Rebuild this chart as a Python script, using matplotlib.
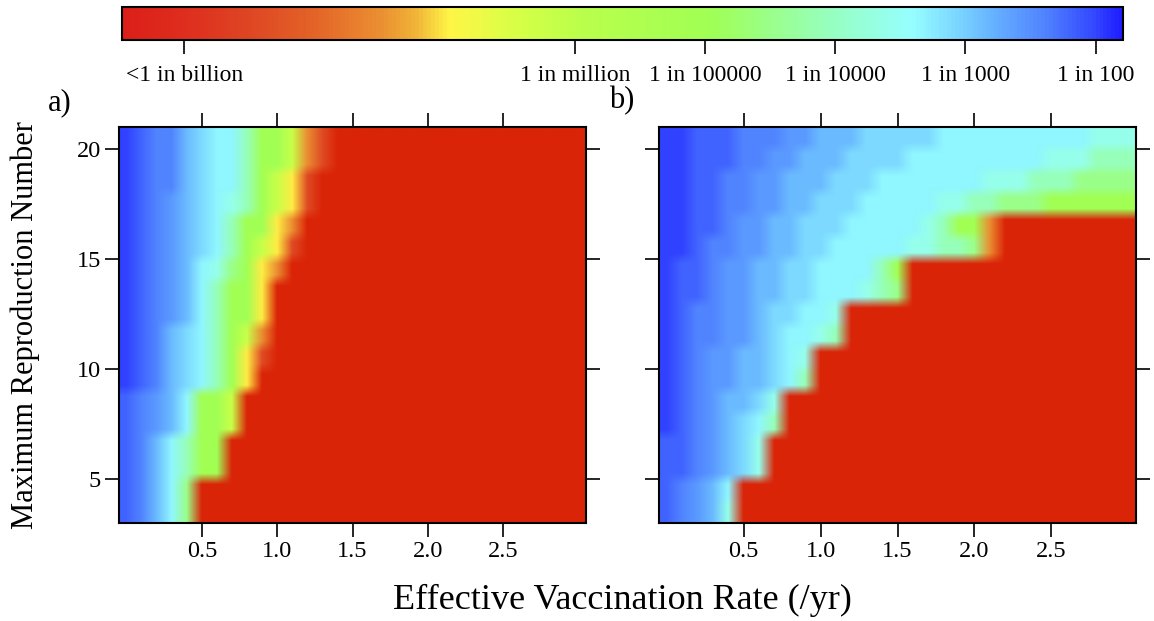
import numpy as np
import matplotlib
matplotlib.use("Agg")
import matplotlib.pyplot as plt
from matplotlib.colors import LinearSegmentedColormap, Normalize
from matplotlib.cm import ScalarMappable

plt.rcParams["font.family"] = ["Liberation Serif", "DejaVu Serif"]

# grid of the two levelplots: vaccination rate columns, R0 rows (top row first)
vacc_rate = [0.0, 0.1, 0.2, 0.3, 0.4, 0.5, 0.6, 0.7, 0.8, 0.9, 1.0,
             1.1, 1.2, 1.3, 1.4, 1.5, 1.6, 1.7, 1.8, 1.9, 2.0,
             2.1, 2.2, 2.3, 2.4, 2.5, 2.6, 2.7, 2.8, 2.9, 3.0]
r0_rows = [20.5, 19.5, 18.5, 17.5, 16.5, 15.5, 14.5, 13.5, 12.5,
           11.5, 10.5, 9.5, 8.5, 7.5, 6.5, 5.5, 4.5, 3.5]

# log10 probability for each code letter
level = {"0": -10.0, "1": -8.4, "2": -7.5, "3": -7.0, "4": -6.2, "5": -5.0,
         "6": -4.5, "7": -4.1, "8": -3.6, "9": -3.35, "A": -3.1, "B": -2.85,
         "C": -2.6, "D": -2.4, "E": -2.2, "F": -2.0}

panel_a = [
    "FEDDBA9975542100000000000000000",
    "FEDDBA9975542100000000000000000",
    "FEDDBA997543100000000000000000" + "0",
    "FEDCBA987543100000000000000000" + "0",
    "FEDCBA9755320000000000000000000",
    "FEDCBA9754310000000000000000000",
    "FEDCB9865320000000000000000000" + "0",
    "FEDCB975530000000000000000000" + "00",
    "FEDCB975530000000000000000000" + "00",
    "FEDBA975420000000000000000000" + "00",
    "FEDBA975310000000000000000000" + "00",
    "FEDBA97530000000000000000000" + "000",
    "EDCB955400000000000000000000" + "000",
    "EDCB955400000000000000000000" + "000",
    "EDB975500000000000000000000" + "0000",
    "EDB975500000000000000000000" + "0000",
    "EDB9600000000000000000000" + "000000",
    "EDB9600000000000000000000" + "000000",
]

panel_b = [
    "FFEEEDDDCCBBBAAAAA9999999999888",
    "FFEEEDDCCBBBAAAA999999999888777",
    "FFEEDDCCBBBAAA99999998887776666",
    "FFEEDDCCBBAAA999998877666555555",
    "FFEEDCCBBAAA9999987552" + "000000000",
    "FFEDDCCBBAA99999887762" + "000000000",
    "FEEDCCBBAA999975" + "000000000000000",
    "FEEDCCBBAA999876" + "000000000000000",
    "FEDDCCBAA998" + "0000000000000000000",
    "FEDDCCBA9987" + "0000000000000000000",
    "FEDCCBBA98" + "000000000000000000000",
    "FEDCCBBA97" + "000000000000000000000",
    "FEDCBBA8" + "00000000000000000000000",
    "FEDCBA97" + "00000000000000000000000",
    "EEDCBA8" + "000000000000000000000000",
    "EEDCBA8" + "000000000000000000000000",
    "EDCB9" + "00000000000000000000000000",
    "EDCB8" + "00000000000000000000000000",
]

cbar_ticks = [-9, -6, -5, -4, -3, -2]
cbar_labels = ["<1 in billion", "1 in million", "1 in 100000",
               "1 in 10000", "1 in 1000", "1 in 100"]
x_ticks = [0.5, 1.0, 1.5, 2.0, 2.5]
y_ticks = [5, 10, 15, 20]

vmin, vmax = -9.48, -1.79
nodes = [(0.0, (220, 30, 25)), (0.06, (222, 45, 30)), (0.126, (222, 70, 35)),
         (0.193, (228, 100, 40)), (0.26, (235, 145, 50)), (0.293, (240, 180, 55)),
         (0.326, (255, 245, 70)), (0.393, (215, 255, 70)), (0.46, (185, 255, 75)),
         (0.59, (160, 255, 85)), (0.64, (155, 255, 130)), (0.707, (150, 255, 190)),
         (0.79, (150, 255, 255)), (0.84, (120, 210, 255)), (0.874, (100, 175, 255)),
         (0.924, (80, 130, 255)), (0.974, (50, 70, 255)), (1.0, (30, 30, 255))]
cmap = LinearSegmentedColormap.from_list(
    "risk", [(f, tuple(c / 255 for c in rgb)) for f, rgb in nodes])
cmap.set_under("#da2408")
norm = Normalize(vmin, vmax)

W, H = 1154, 621
fig = plt.figure(figsize=(W / 100, H / 100), dpi=100)


def px_axes(x0, y0, x1, y1):
    return fig.add_axes([x0 / W, 1 - y1 / H, (x1 - x0) / W, (y1 - y0) / H])


ax_a = px_axes(119, 126.7, 586, 523.3)
ax_b = px_axes(659, 126.7, 1136, 523.3)
cax = px_axes(122, 7, 1123, 40)

dx = (vacc_rate[1] - vacc_rate[0]) / 2
extent = [vacc_rate[0] - dx, vacc_rate[-1] + dx, r0_rows[-1] - 0.5, r0_rows[0] + 0.5]

for ax, rows, show_y in [(ax_a, panel_a, True), (ax_b, panel_b, False)]:
    for r in rows:
        assert len(r) == len(vacc_rate), r
    grid = np.array([[level[c] for c in r] for r in rows])
    # rows doubled so the smoothing stays within half a row, like the original
    grid = np.repeat(grid, 2, axis=0)
    ax.imshow(grid, cmap=cmap, norm=norm, extent=extent, origin="upper",
              aspect="auto", interpolation="bilinear", interpolation_stage="rgba")
    ax.set_xlim(extent[0], extent[1])
    ax.set_ylim(extent[2], extent[3])
    ax.set_xticks(x_ticks)
    ax.set_xticklabels(["%.1f" % t for t in x_ticks])
    ax.set_yticks(y_ticks)
    ax.tick_params(direction="out", length=10, width=1.2, labelsize=17.5,
                   top=True, right=True, pad=3, colors="black")
    ax.tick_params(axis="y", labelleft=show_y, pad=3)
    for s in ax.spines.values():
        s.set_linewidth(1.5)

cb = fig.colorbar(ScalarMappable(norm=norm, cmap=cmap), cax=cax,
                  orientation="horizontal")
cb.set_ticks(cbar_ticks)
cb.set_ticklabels(cbar_labels)
cb.outline.set_linewidth(1.5)
cax.tick_params(direction="out", length=10, width=1.2, labelsize=17, pad=8)

fig.text(60 / W, 1 - 103 / H, "a)", fontsize=22, ha="center", va="center")
fig.text(622 / W, 1 - 101 / H, "b)", fontsize=22, ha="center", va="center")
fig.text(622 / W, 1 - 600 / H, "Effective Vaccination Rate (/yr)",
         fontsize=26, ha="center", va="center")
fig.text(25 / W, 1 - 325 / H, "Maximum Reproduction Number",
         fontsize=22, ha="center", va="center", rotation=90)

fig.savefig("out.png", dpi=100)
